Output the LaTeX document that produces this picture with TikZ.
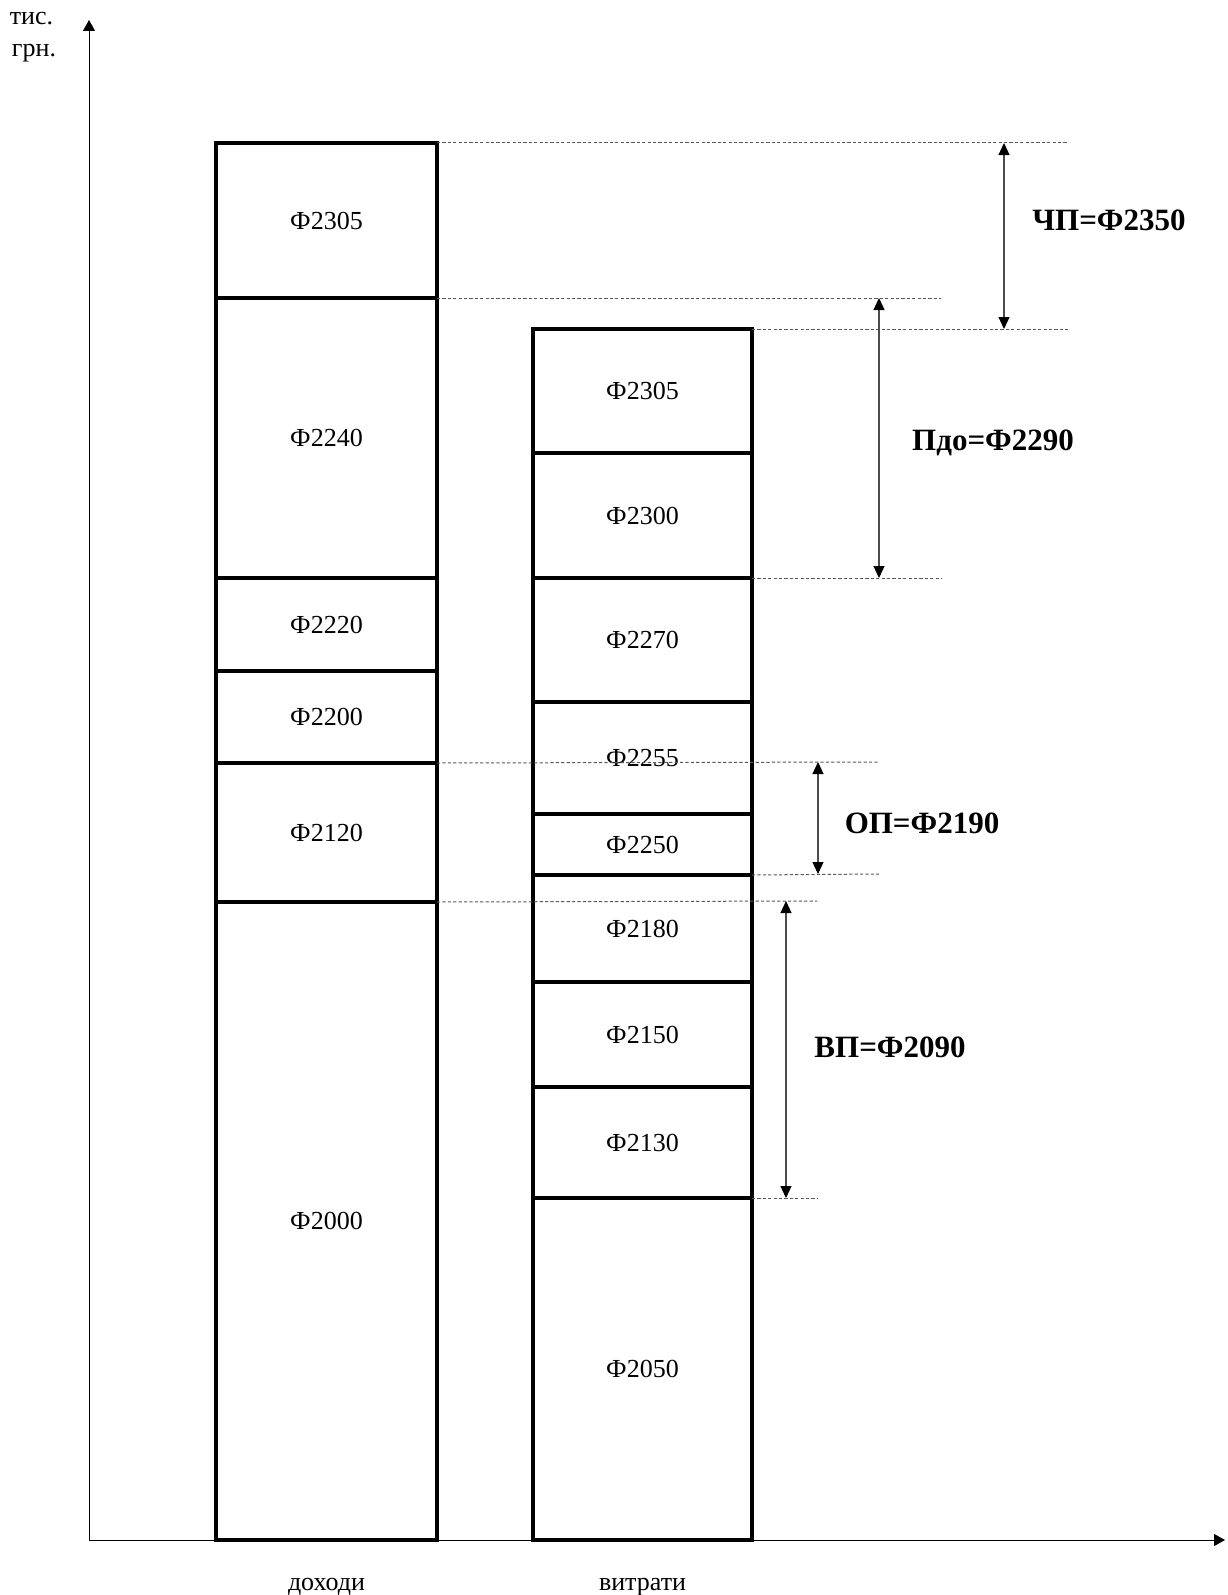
\documentclass[tikz,border=0pt]{standalone}
\usepackage{fontspec}
\setmainfont{Liberation Serif}
\usepackage{tikz}
\usetikzlibrary{arrows.meta}
\usetikzlibrary{positioning}

\tikzset{
  cell/.style={draw, line width=2pt, outer sep=0pt, inner sep=0pt, minimum width=110.5pt, font=\fontsize{13}{15.6}\selectfont},
  guide/.style={dash pattern=on 1.6pt off 1.1pt, black!65, line width=0.5pt},
  dim/.style={{Triangle[length=6pt,width=5.5pt,color=black]}-{Triangle[length=6pt,width=5.5pt,color=black]}, line width=0.6pt, black!70},
  dimlabel/.style={font=\fontsize{15.5}{18}\selectfont\bfseries},
  axis/.style={-{Triangle[length=5.5pt,width=6pt]}, line width=0.5pt}
}

\begin{document}
\begin{tikzpicture}[x=0.5pt, y=-0.5pt]
        \useasboundingbox (0,0) rectangle (1227,1595);

        % Осі
        \coordinate (O) at (89,1540);
        \coordinate (ytop) at (89,20);
        \coordinate (xend) at (1225,1540);
        \draw[axis] (O) -- (ytop);
        \draw[axis] (O) -- (xend);
        \node[anchor=base, font=\fontsize{13}{15.6}\selectfont] (unit1) at (31.5,25) {тис.};
        \node[anchor=base, font=\fontsize{13}{15.6}\selectfont] (unit2) at (34,57) {грн.};

        % Стовпчик доходів
        \node[cell, minimum height=319pt, anchor=south west] (l2000) at (216,1540) {Ф2000};
        \node[cell, minimum height=69.5pt, above=0pt of l2000] (l2120) {Ф2120};
        \node[cell, minimum height=46pt, above=0pt of l2120] (l2200) {Ф2200};
        \node[cell, minimum height=46.5pt, above=0pt of l2200] (l2220) {Ф2220};
        \node[cell, minimum height=140pt, above=0pt of l2220] (l2240) {Ф2240};
        \node[cell, minimum height=77.5pt, above=0pt of l2240] (l2305) {Ф2305};

        % Стовпчик витрат
        \node[cell, minimum width=109.5pt, minimum height=171pt, anchor=south west] (r2050) at (533,1540) {Ф2050};
        \node[cell, minimum width=109.5pt, minimum height=55.5pt, above=0pt of r2050] (r2130) {Ф2130};
        \node[cell, minimum width=109.5pt, minimum height=52.5pt, above=0pt of r2130] (r2150) {Ф2150};
        \node[cell, minimum width=109.5pt, minimum height=53.5pt, above=0pt of r2150] (r2180) {Ф2180};
        \node[cell, minimum width=109.5pt, minimum height=30.5pt, above=0pt of r2180] (r2250) {Ф2250};
        \node[cell, minimum width=109.5pt, minimum height=56pt, above=0pt of r2250] (r2255) {Ф2255};
        \node[cell, minimum width=109.5pt, minimum height=62pt, above=0pt of r2255] (r2270) {Ф2270};
        \node[cell, minimum width=109.5pt, minimum height=62.5pt, above=0pt of r2270] (r2300) {Ф2300};
        \node[cell, minimum width=109.5pt, minimum height=62pt, above=0pt of r2300] (r2305) {Ф2305};

        % Підписи під стовпчиками
        \node[anchor=base, font=\fontsize{13}{15.6}\selectfont] (inc) at ([yshift=-25pt]l2000.south) {доходи};
        \node[anchor=base, font=\fontsize{13}{15.6}\selectfont] (exp) at ([yshift=-25pt]r2050.south) {витрати};

        % Допоміжні пунктирні лінії
        \coordinate (g1) at (1068,143);
        \coordinate (g2) at (941,298);
        \coordinate (g3) at (1068,329);
        \coordinate (g4) at (942,578);
        \coordinate (g5) at (879,762);
        \coordinate (g6) at (879,874);
        \coordinate (g7) at (817,901);
        \coordinate (g8) at (817,1198);
        \draw[guide] (l2305.north east) -- (g1);
        \draw[guide] (l2240.north east) -- (g2);
        \draw[guide] (r2305.north east) -- (g3);
        \draw[guide] (r2270.north east) -- (g4);
        \draw[guide] (l2120.north east) -- (g5);
        \draw[guide] (r2180.north east) -- (g6);
        \draw[guide] (l2000.north east) -- (g7);
        \draw[guide] (r2050.north east) -- (g8);

        % Розмірні стрілки
        \coordinate (chp1) at (1004,143);
        \coordinate (chp2) at (1004,329);
        \coordinate (pdo1) at (879,298);
        \coordinate (pdo2) at (879,578);
        \coordinate (op1) at (818,762);
        \coordinate (op2) at (818,874);
        \coordinate (vp1) at (786,901);
        \coordinate (vp2) at (786,1198);
        \draw[dim] (chp1) -- (chp2);
        \draw[dim] (pdo1) -- (pdo2);
        \draw[dim] (op1) -- (op2);
        \draw[dim] (vp1) -- (vp2);

        % Показники прибутку
        \node[dimlabel] (chp) at (1109,220) {ЧП=Ф2350};
        \node[dimlabel] (pdo) at (993,443) {Пдо=Ф2290};
        \node[dimlabel] (op) at (922,823) {ОП=Ф2190};
        \node[dimlabel] (vp) at (890,1047) {ВП=Ф2090};
\end{tikzpicture}
\end{document}
